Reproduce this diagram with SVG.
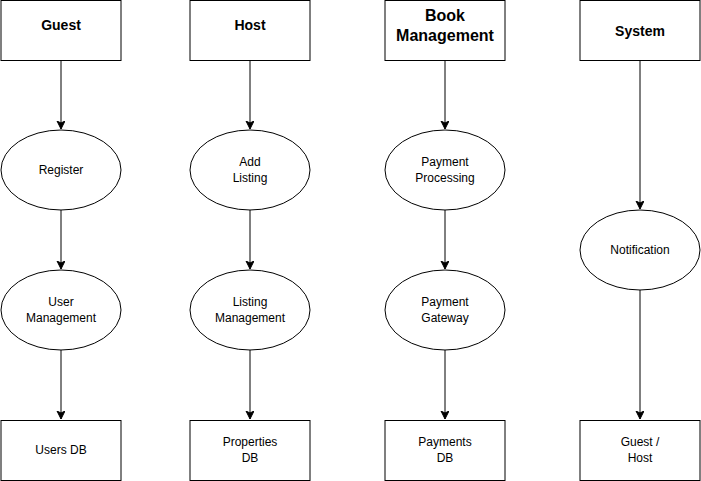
<svg xmlns="http://www.w3.org/2000/svg" width="701" height="481" viewBox="0 0 701 481">
<style>
.n{fill:#fff;stroke:#000;stroke-width:1}
.t{font-family:"Liberation Sans",Arial,sans-serif;font-size:12px;fill:#000;text-anchor:middle}
.h{font-family:"Liberation Sans",Arial,sans-serif;font-size:14px;font-weight:bold;fill:#000;text-anchor:middle}
.e{stroke:#000;stroke-width:1;fill:none;marker-end:url(#a)}
</style>
<defs>
<marker id="a" markerWidth="10" markerHeight="10" refX="8" refY="4" orient="auto" markerUnits="userSpaceOnUse">
<path d="M0,0 L8,4 L0,8 L2,4 Z" fill="#000" stroke="#000" stroke-width="1"/>
</marker>
</defs>
<rect width="701" height="481" fill="#fff"/>
<g id="connectors">
<path class="e" d="M61,60 V129"/>
<path class="e" d="M61,210 V269"/>
<path class="e" d="M61,350 V419"/>
<path class="e" d="M250,60 V129"/>
<path class="e" d="M250,210 V269"/>
<path class="e" d="M250,350 V419"/>
<path class="e" d="M445,60 V129"/>
<path class="e" d="M445,210 V269"/>
<path class="e" d="M445,350 V419"/>
<path class="e" d="M640,60 V209"/>
<path class="e" d="M640,290 V419"/>
</g>
<g id="guest"><rect class="n" x="1" y="0.5" width="120" height="60"/><text class="h" x="61" y="30">Guest</text></g>
<g id="host"><rect class="n" x="190" y="0.5" width="120" height="60"/><text class="h" x="250" y="30">Host</text></g>
<g id="book"><rect class="n" x="385" y="0.5" width="120" height="60"/><text class="h" x="445" y="21" style="font-size:16px">Book</text><text class="h" x="445" y="41" style="font-size:16px">Management</text></g>
<g id="system"><rect class="n" x="580" y="0.5" width="120" height="60"/><text class="h" x="640" y="36">System</text></g>
<g id="register"><ellipse class="n" cx="61" cy="170" rx="60" ry="40"/><text class="t" x="61" y="174">Register</text></g>
<g id="addlisting"><ellipse class="n" cx="250" cy="170" rx="60" ry="40"/><text class="t" x="250" y="166">Add</text><text class="t" x="250" y="182">Listing</text></g>
<g id="payproc"><ellipse class="n" cx="445" cy="170" rx="60" ry="40"/><text class="t" x="445" y="166">Payment</text><text class="t" x="445" y="182">Processing</text></g>
<g id="notification"><ellipse class="n" cx="640" cy="250" rx="60" ry="40"/><text class="t" x="640" y="254">Notification</text></g>
<g id="usermgmt"><ellipse class="n" cx="61" cy="310" rx="60" ry="40"/><text class="t" x="61" y="306">User</text><text class="t" x="61" y="322">Management</text></g>
<g id="listingmgmt"><ellipse class="n" cx="250" cy="310" rx="60" ry="40"/><text class="t" x="250" y="306">Listing</text><text class="t" x="250" y="322">Management</text></g>
<g id="paygw"><ellipse class="n" cx="445" cy="310" rx="60" ry="40"/><text class="t" x="445" y="306">Payment</text><text class="t" x="445" y="322">Gateway</text></g>
<g id="usersdb"><rect class="n" x="1" y="420.5" width="120" height="60"/><text class="t" x="61" y="454">Users DB</text></g>
<g id="propdb"><rect class="n" x="190" y="420.5" width="120" height="60"/><text class="t" x="250" y="446">Properties</text><text class="t" x="250" y="462">DB</text></g>
<g id="paydb"><rect class="n" x="385" y="420.5" width="120" height="60"/><text class="t" x="445" y="446">Payments</text><text class="t" x="445" y="462">DB</text></g>
<g id="guesthost"><rect class="n" x="580" y="420.5" width="120" height="60"/><text class="t" x="640" y="446">Guest /</text><text class="t" x="640" y="462">Host</text></g>
</svg>
